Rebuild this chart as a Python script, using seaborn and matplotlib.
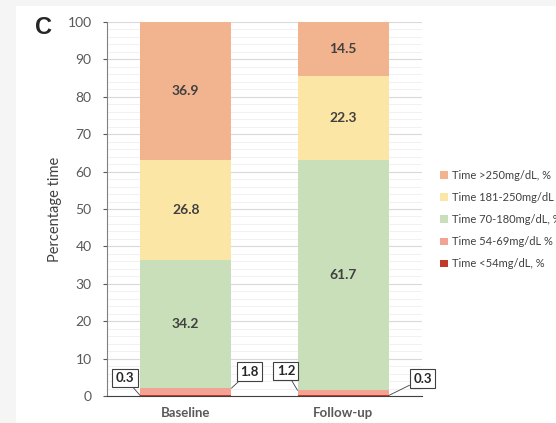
import numpy as np
import pandas as pd
import seaborn as sns
import matplotlib.pyplot as plt
from matplotlib.patches import Rectangle, Patch

# data
groups = ['Baseline', 'Follow-up']
ranges = ['Time <54mg/dL, %', 'Time 54-69mg/dL %', 'Time 70-180mg/dL, %',
          'Time 181-250mg/dL %', 'Time >250mg/dL, %']
below54 = [0.3, 0.3]
r54_69 = [1.8, 1.2]
r70_180 = [34.2, 61.7]
r181_250 = [26.8, 22.3]
above250 = [36.9, 14.5]
colors = ['#c0392b', '#f2a394', '#c9dfb9', '#fce6a6', '#f2b48f']

series = [below54, r54_69, r70_180, r181_250, above250]

sns.set_style('white')
plt.rcParams['font.family'] = ['Lato', 'DejaVu Sans']

fig = plt.figure(figsize=(5.56, 4.23), dpi=100)
fig.patch.set_facecolor('#f5f5f5')
fig.patches.append(Rectangle((16 / 556, 0), 1, 1 - 6 / 423, transform=fig.transFigure,
                             facecolor='white', edgecolor='none', zorder=-10))
ax = fig.add_axes([107 / 556, 1 - 396 / 423, 315 / 556, 374 / 423])
ax.set_facecolor('white')
ax.set_zorder(1)

# stacked bars
bottom = np.zeros(len(groups))
for name, vals, col in zip(ranges, series, colors):
    df = pd.DataFrame({'group': groups, 'value': vals})
    sns.barplot(data=df, x='group', y='value', color=col, width=0.58, saturation=1,
                bottom=bottom, ax=ax, edgecolor='none', zorder=3)
    bottom = bottom + np.array(vals)

# labels inside bars
bottom = np.zeros(len(groups))
for vals in series:
    for i, v in enumerate(vals):
        if v > 10:
            ax.text(i, bottom[i] + v / 2, f'{v}', ha='center', va='center',
                    fontsize=10, fontweight='bold', color='#404040', zorder=5)
    bottom = bottom + np.array(vals)

# callouts for small segments
callouts = [('0.3', (-0.29, 0.15), (-0.386, 4.8)),
            ('1.8', (0.29, 2.1), (0.405, 6.55)),
            ('1.2', (0.71, 1.5), (0.636, 6.7)),
            ('0.3', (1.29, 0.15), (1.503, 4.6))]
for txt, xy, xytext in callouts:
    ax.annotate(txt, xy=xy, xytext=xytext, ha='center', va='center',
                fontsize=9.5, fontweight='bold', color='#262626',
                bbox=dict(boxstyle='square,pad=0.25', fc='white', ec='#404040', lw=0.8),
                arrowprops=dict(arrowstyle='-', color='#404040', lw=0.6,
                                shrinkA=0, shrinkB=0),
                annotation_clip=False, zorder=6)

ax.set_xlim(-0.5, 1.5)
ax.set_ylim(0, 100)
ax.set_yticks(np.arange(0, 101, 10))
ax.set_yticks(np.arange(0, 101, 2), minor=True)
ax.grid(axis='y', which='major', color='#d9d9d9', lw=0.8, zorder=0)
ax.grid(axis='y', which='minor', color='#efefef', lw=0.6, zorder=0)
ax.set_axisbelow(True)
ax.tick_params(axis='y', which='major', direction='out', length=3, width=0.8,
               color='#595959', labelsize=10, labelcolor='#595959', left=True, pad=8)
ax.tick_params(axis='y', which='minor', length=0)
ax.tick_params(axis='x', length=0, labelsize=9.5, labelcolor='#595959', pad=8)
for lbl in ax.get_xticklabels():
    lbl.set_fontweight('bold')
for s in ['top', 'right']:
    ax.spines[s].set_visible(False)
ax.spines['left'].set_color('#808080')
ax.spines['left'].set_linewidth(0.8)
ax.spines['bottom'].set_color('#404040')
ax.spines['bottom'].set_linewidth(0.8)
ax.set_xlabel('')
ax.set_ylabel('Percentage time', fontsize=10.5, color='#404040', labelpad=4)

fig.text(43 / 556, 1 - 27 / 423, 'C', fontsize=17, fontweight='bold',
         ha='center', va='center', family='Liberation Sans')

handles = [Patch(facecolor=c, edgecolor='none') for c in colors[::-1]]
leg = fig.legend(handles, ranges[::-1], loc='upper left',
                 bbox_to_anchor=(430 / 556, 1 - 160 / 423), frameon=False,
                 fontsize=8, handlelength=0.7, handleheight=0.7,
                 handletextpad=0.4, labelspacing=1.0, labelcolor='#404040')

fig.savefig('out.png', dpi=100, facecolor=fig.get_facecolor())
